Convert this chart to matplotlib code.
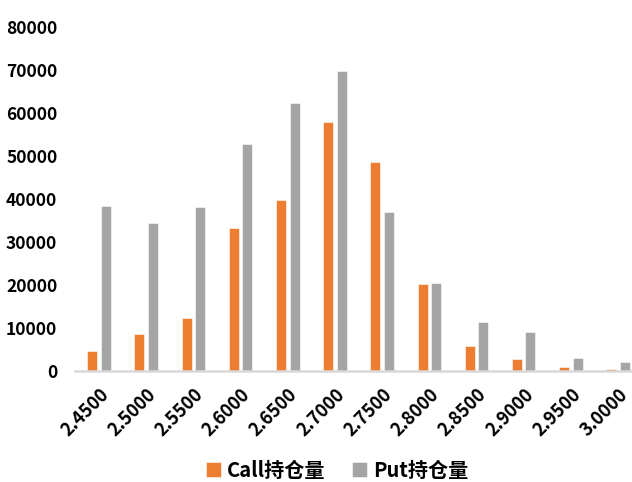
import matplotlib
matplotlib.use("Agg")
import matplotlib.pyplot as plt
import numpy as np

strikes = ["2.4500", "2.5000", "2.5500", "2.6000", "2.6500", "2.7000",
           "2.7500", "2.8000", "2.8500", "2.9000", "2.9500", "3.0000"]
call_oi = [4600, 8500, 12300, 33300, 39800, 57900,
           48700, 20200, 5800, 2700, 950, 550]
put_oi = [38400, 34400, 38100, 52800, 62400, 69800,
          37000, 20500, 11300, 9100, 2950, 2000]
y_ticks = [0, 10000, 20000, 30000, 40000, 50000, 60000, 70000, 80000]

plt.rcParams['font.family'] = ['Noto Sans CJK SC', 'DejaVu Sans']

fig = plt.figure(figsize=(6.32, 4.82), dpi=100)
ax = fig.add_axes([0.1193, 0.2303, 0.896, 0.7137])

x = np.arange(len(strikes))
w = 0.212
ax.bar(x - 0.144, call_oi, width=w, color='#ED7D31', label='Call持仓量',
       edgecolor='white', linewidth=0.4)
ax.bar(x + 0.144, put_oi, width=w, color='#A5A5A5', label='Put持仓量',
       edgecolor='white', linewidth=0.4)

ax.set_xlim(-0.5, len(strikes) - 0.5)
ax.set_ylim(0, 80000)
ax.set_yticks(y_ticks)
ax.set_yticklabels([str(v) for v in y_ticks], fontsize=12.5, fontweight='bold')
ax.tick_params(axis='y', length=0, pad=13)

ax.set_xticks(x)
ax.set_xticklabels(strikes, rotation=45, ha='right', rotation_mode='anchor',
                   fontsize=13, fontweight='bold')
ax.tick_params(axis='x', length=0, pad=10)

for s in ['top', 'right', 'left']:
    ax.spines[s].set_visible(False)
ax.spines['bottom'].set_color('#d9d9d9')
ax.spines['bottom'].set_linewidth(1.8)

fig.legend(loc='center', bbox_to_anchor=(337 / 632, 1 - 470 / 482), ncol=2,
           frameon=False, prop={'size': 14.5, 'weight': 'bold'},
           handlelength=0.75, handleheight=0.75, handletextpad=0.3,
           columnspacing=1.3, borderpad=0.2)

fig.savefig('out.png', dpi=100)
